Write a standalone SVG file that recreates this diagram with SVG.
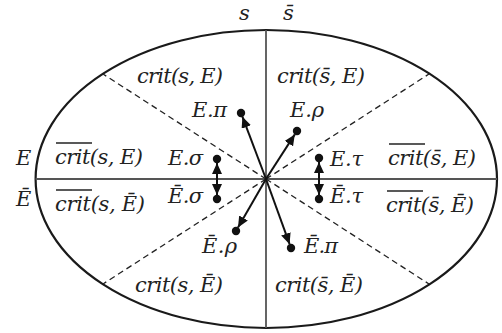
<svg xmlns="http://www.w3.org/2000/svg" width="502" height="333" viewBox="0 0 502 333">
<style>
text{font-family:"DejaVu Serif","Liberation Serif",serif;font-style:italic;font-size:21px;fill:#222}
.ovl{stroke:#222;stroke-width:1.5}
.axis{stroke:#555;stroke-width:1.8;fill:none}
.dash{stroke:#222;stroke-width:1.3;stroke-dasharray:6 4;fill:none}
.arr{stroke:#111;stroke-width:2;fill:none;marker-end:url(#ah)}
.dbl{stroke:#111;stroke-width:2;fill:none;marker-end:url(#ah);marker-start:url(#ahs)}
.dot{fill:#111}
</style>
<defs>
<marker id="ah" markerUnits="userSpaceOnUse" markerWidth="12" markerHeight="10" refX="11" refY="5" orient="auto"><path d="M0,0 L11,5 L0,10 z" fill="#111"/></marker>
<marker id="ahs" markerUnits="userSpaceOnUse" markerWidth="12" markerHeight="10" refX="11" refY="5" orient="auto-start-reverse"><path d="M0,0 L11,5 L0,10 z" fill="#111"/></marker>
</defs>
<rect width="502" height="333" fill="#fff"/>
<g id="frame">
<ellipse cx="266.3" cy="179" rx="230.7" ry="149" fill="none" stroke="#1a1a1a" stroke-width="2.2"/>
<line class="axis" x1="266" y1="30" x2="266" y2="328"/>
<line class="axis" x1="35.6" y1="179" x2="497" y2="179"/>
<line class="dash" x1="266" y1="179" x2="103" y2="74"/>
<line class="dash" x1="266" y1="179" x2="429" y2="74"/>
<line class="dash" x1="266" y1="179" x2="103" y2="284"/>
<line class="dash" x1="266" y1="179" x2="429" y2="284"/>
</g>
<g id="headers">
<text x="239" y="20">s</text>
<text x="283" y="20">s̄</text>
<text x="16" y="165">E</text>
<text x="16" y="206">Ē</text>
</g>
<g id="regions">
<text x="137" y="83" textLength="86">crit(s, E)</text>
<text x="277" y="83" textLength="88">crit(s̄, E)</text>
<text x="55" y="164" textLength="88">crit(s, E)</text>
<line class="ovl" x1="56" y1="143" x2="92" y2="143"/>
<text x="388" y="165" textLength="88">crit(s̄, E)</text>
<line class="ovl" x1="389" y1="144" x2="425" y2="144"/>
<text x="55" y="211" textLength="90">crit(s, Ē)</text>
<line class="ovl" x1="56" y1="190" x2="92" y2="190"/>
<text x="386" y="212" textLength="88">crit(s̄, Ē)</text>
<line class="ovl" x1="387" y1="191" x2="423" y2="191"/>
<text x="135" y="292" textLength="88">crit(s, Ē)</text>
<text x="275" y="292" textLength="88">crit(s̄, Ē)</text>
</g>
<g id="n-E-pi"><circle class="dot" cx="241" cy="113" r="4.2"/><text x="192" y="117" textLength="35">E.π</text></g>
<g id="n-E-rho"><circle class="dot" cx="297" cy="131" r="4.2"/><text x="290" y="117" textLength="34">E.ρ</text></g>
<g id="n-E-sigma"><circle class="dot" cx="217" cy="159" r="4.2"/><text x="168" y="165" textLength="35">E.σ</text></g>
<g id="n-Eb-sigma"><circle class="dot" cx="217" cy="199" r="4.2"/><text x="168" y="203" textLength="35">Ē.σ</text></g>
<g id="n-E-tau"><circle class="dot" cx="319" cy="158" r="4.2"/><text x="330" y="166" textLength="33">E.τ</text></g>
<g id="n-Eb-tau"><circle class="dot" cx="319" cy="199" r="4.2"/><text x="330" y="203" textLength="33">Ē.τ</text></g>
<g id="n-Eb-rho"><circle class="dot" cx="236" cy="231" r="4.2"/><text x="202" y="253" textLength="35">Ē.ρ</text></g>
<g id="n-Eb-pi"><circle class="dot" cx="291" cy="248" r="4.2"/><text x="304" y="253" textLength="34">Ē.π</text></g>
<g id="connectors">
<line class="arr" x1="266" y1="179" x2="242.4" y2="116.7"/>
<line class="arr" x1="266" y1="179" x2="294.8" y2="134.4"/>
<line class="arr" x1="266" y1="179" x2="238" y2="227.5"/>
<line class="arr" x1="266" y1="179" x2="289.6" y2="244.2"/>
<line class="dbl" x1="217" y1="163" x2="217" y2="195"/>
<line class="dbl" x1="319" y1="162" x2="319" y2="195"/>
</g>
</svg>
